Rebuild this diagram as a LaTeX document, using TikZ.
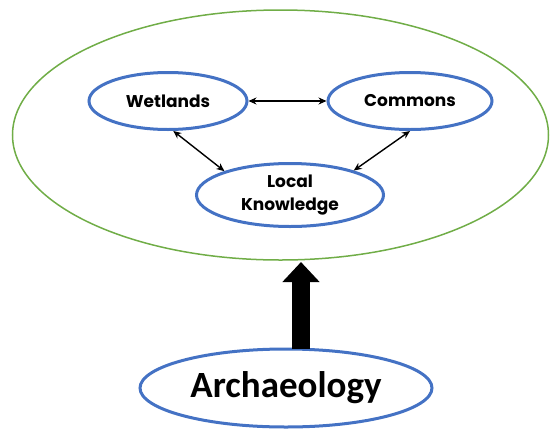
\documentclass[tikz,border=0pt]{standalone}
\usepackage{fontspec}
\setmainfont{Poppins}
\newfontfamily\archfont{Carlito}
\usetikzlibrary{arrows.meta,shapes.geometric}
\definecolor{ellblue}{HTML}{4472C4}
\definecolor{ellgreen}{HTML}{70AD47}
\tikzset{
  topic/.style={ellipse, draw=ellblue, line width=3pt, inner sep=0pt, font=\bfseries\fontsize{17}{23}\selectfont, align=center},
  link/.style={line width=1.4pt, {Stealth[length=8pt,width=7pt]}-{Stealth[length=8pt,width=7pt]}},
}
\begin{document}
\begin{tikzpicture}[x=1pt,y=-1pt]
\useasboundingbox (0,0) rectangle (552,429);
\node[ellipse, draw=ellgreen, line width=1.5pt, minimum width=536pt, minimum height=250pt, inner sep=0pt] (field) at (280.5,135) {};
\node[topic, minimum width=158pt, minimum height=57pt] (wet) at (168,101) {Wetlands};
\node[topic, minimum width=164pt, minimum height=57pt] (com) at (410,101) {Commons};
\node[topic, minimum width=187pt, minimum height=63pt] (lk) at (290,195) {Local\\Knowledge};
\node[ellipse, draw=ellblue, line width=3pt, inner sep=0pt, minimum width=292pt, minimum height=78pt, font=\archfont\bfseries\fontsize{37}{40}\selectfont] (arch) at (286,388) {Archaeology};
\draw[link] (wet) -- (com);
\draw[link] (wet.-80) -- (lk.160);
\draw[link] (com.-90) -- (lk.21);
\coordinate (abase) at (301,349);
\coordinate (atip) at (301,262);
\draw[line width=18pt, -{Triangle[length=20pt,width=36pt]}] (abase) -- (atip);
\end{tikzpicture}
\end{document}
